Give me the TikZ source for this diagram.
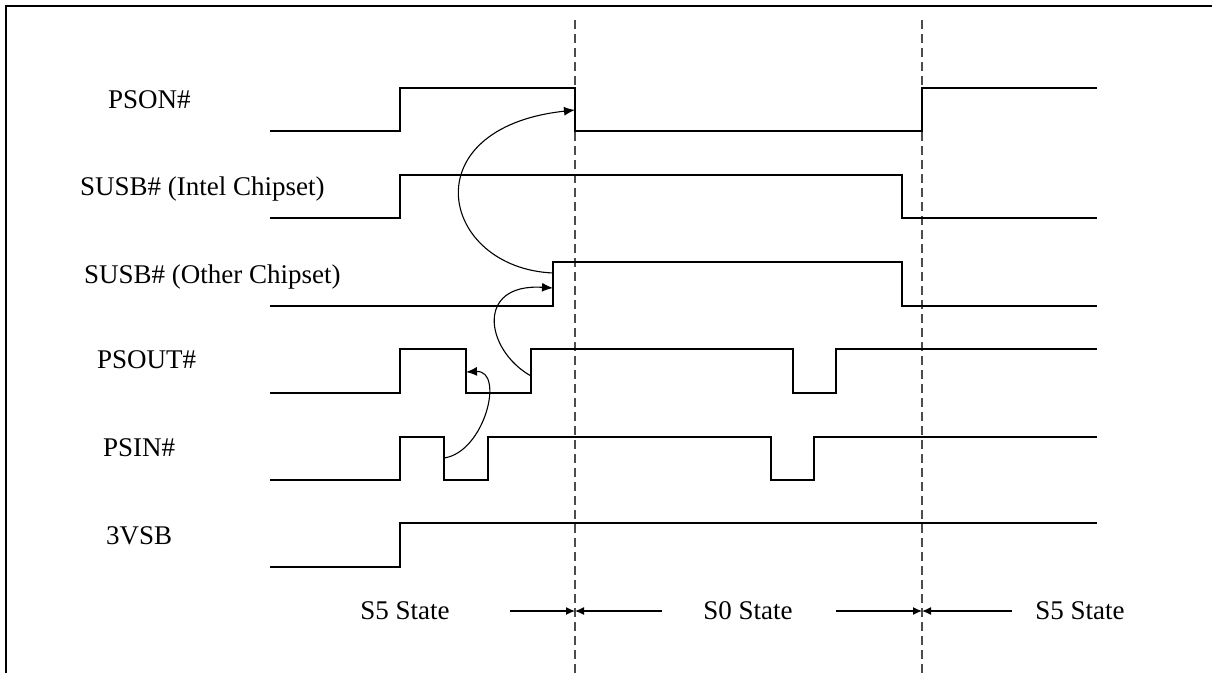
\documentclass[tikz,border=0pt]{standalone}
\usepackage{fontspec}
\setmainfont{Liberation Serif}
\usetikzlibrary{arrows.meta}
\begin{document}
\begin{tikzpicture}[x=1pt,y=-1pt,
  sig/.style={line width=1.4pt,line join=miter},
  lbl/.style={anchor=base west,inner sep=0pt,font=\fontsize{27}{30}\selectfont},
  stlbl/.style={anchor=base,inner sep=0pt,font=\fontsize{27}{30}\selectfont},
  divider/.style={line width=1.2pt,draw=black!70,dash pattern=on 9pt off 5pt},
  causal/.style={line width=1.1pt,-{Latex[length=11pt,width=9pt]}},
  span/.style={line width=1.2pt,-{Latex[length=9pt,width=8pt]}},
  frameline/.style={line width=2.6pt}]
\useasboundingbox (0,0) rectangle (1212,673);
% frame (top and left edges)
\draw[frameline] (6,673) -- (6,6) -- (1212,6);
% dividers
\coordinate (d1t) at (575,20); \coordinate (d1b) at (575,673);
\coordinate (d2t) at (922,20); \coordinate (d2b) at (922,673);
\draw[divider] (d1t) -- (d1b);
\draw[divider] (d2t) -- (d2b);
% labels
\node[lbl] (lpson) at (108,108) {PSON\#};
\node[lbl] (lsusbi) at (80,195) {SUSB\# (Intel Chipset)};
\node[lbl] (lsusbo) at (84,283) {SUSB\# (Other Chipset)};
\node[lbl] (lpsout) at (97,368) {PSOUT\#};
\node[lbl] (lpsin) at (103,456) {PSIN\#};
\node[lbl] (l3vsb) at (106,544) {3VSB};
% signals
\draw[sig] (270,131) -- (400,131) -- (400,88) -- (575,88) -- (575,131) -- (922,131) -- (922,88) -- (1097,88);
\draw[sig] (270,218) -- (400,218) -- (400,175) -- (902,175) -- (902,218) -- (1097,218);
\draw[sig] (270,306) -- (553,306) -- (553,262) -- (902,262) -- (902,306) -- (1097,306);
\draw[sig] (270,393) -- (400,393) -- (400,349) -- (466,349) -- (466,393) -- (531,393) -- (531,349) -- (793,349) -- (793,393) -- (836,393) -- (836,349) -- (1097,349);
\draw[sig] (270,480) -- (400,480) -- (400,437) -- (444,437) -- (444,480) -- (488,480) -- (488,437) -- (771,437) -- (771,480) -- (814,480) -- (814,437) -- (1097,437);
\draw[sig] (270,567) -- (400,567) -- (400,523) -- (1097,523);
% causal arrows
\coordinate (a1s) at (553,273); \coordinate (a1e) at (575,110);
\coordinate (a2s) at (531,376); \coordinate (a2e) at (553,288);
\coordinate (a3s) at (444,458); \coordinate (a3e) at (466,372);
\draw[causal] (a1s) .. controls (440,268) and (410,128) .. (a1e);
\draw[causal] (a2s) .. controls (485,350) and (475,283) .. (a2e);
\draw[causal] (a3s) .. controls (485,452) and (505,370) .. (a3e);
% state spans
\node[stlbl] (s5a) at (405,619) {S5 State};
\node[stlbl] (s0) at (748,619) {S0 State};
\node[stlbl] (s5b) at (1080,619) {S5 State};
\coordinate (p1) at (510,611); \coordinate (p2) at (575,611); \coordinate (p3) at (662,611);
\coordinate (p4) at (836,611); \coordinate (p5) at (922,611); \coordinate (p6) at (1012,611);
\draw[span] (p1) -- (p2);
\draw[span] (p3) -- (p2);
\draw[span] (p4) -- (p5);
\draw[span] (p6) -- (p5);
\end{tikzpicture}
\end{document}
